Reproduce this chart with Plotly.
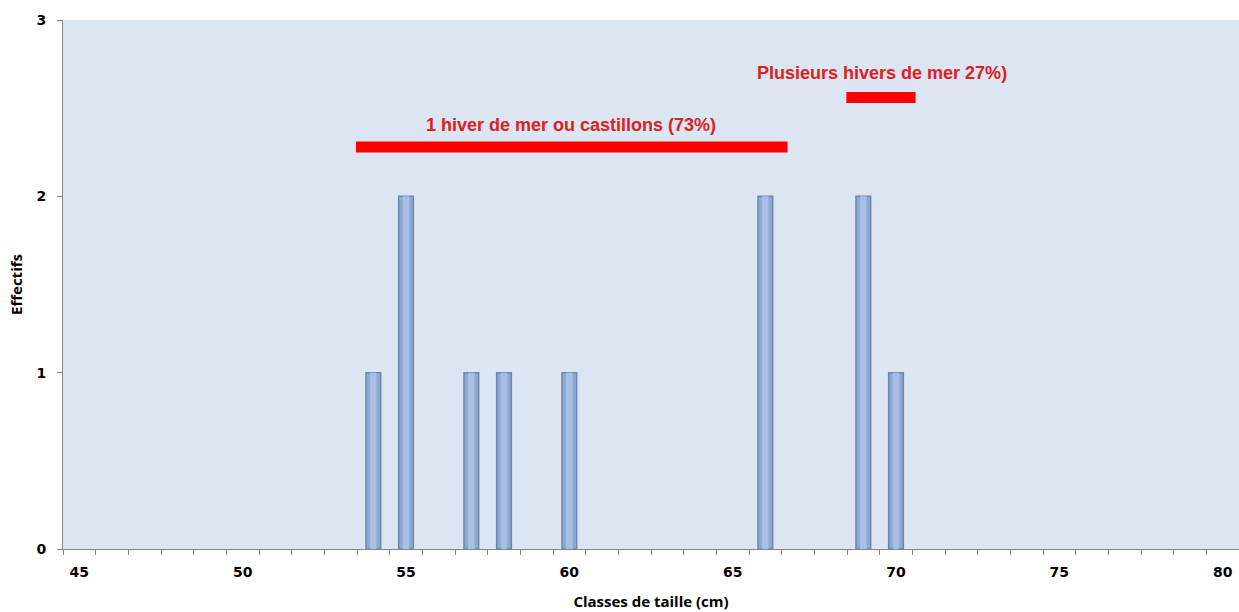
import plotly.graph_objects as go

tailles = [54, 55, 57, 58, 60, 66, 69, 70]
effectifs = [1, 2, 1, 1, 1, 2, 2, 1]

groupe1_x = [53.47, 66.68]
groupe1_y = [2.28, 2.28]
groupe1_label = "1 hiver de mer ou castillons (73%)"
groupe2_x = [68.48, 70.6]
groupe2_y = [2.56, 2.56]
groupe2_label = "Plusieurs hivers de mer 27%)"

tick_labels = [45, 50, 55, 60, 65, 70, 75, 80]
y_ticks = [0, 1, 2, 3]

fig = go.Figure()
fig.add_trace(go.Bar(
    x=tailles, y=effectifs, width=0.45,
    marker=dict(color="#8CA9D1", line=dict(color="#6C88B0", width=1.5)),
    showlegend=False,
))
fig.add_trace(go.Bar(
    x=tailles, y=effectifs, width=0.2,
    marker=dict(color="#A6C1E5", line=dict(width=0)),
    showlegend=False, hoverinfo="skip",
))
for gx, gy in [(groupe1_x, groupe1_y), (groupe2_x, groupe2_y)]:
    fig.add_trace(go.Scatter(x=gx, y=gy, mode="lines",
                             line=dict(color="#FF0000", width=11),
                             showlegend=False, hoverinfo="skip"))

red_font = dict(family="Liberation Sans, Arial", size=18, color="#DD2020")
fig.add_annotation(x=60.04, y=2.405, text="<b>" + groupe1_label + "</b>",
                   showarrow=False, font=red_font)
fig.add_annotation(x=69.56, y=2.70, text="<b>" + groupe2_label + "</b>",
                   showarrow=False, font=red_font)

tick_font = dict(family="DejaVu Sans", size=14, color="#000000")
title_font = dict(family="Open Sans", size=15, color="#000000")
fig.update_layout(
    width=1239, height=612,
    margin=dict(l=63, r=0, t=20, b=63),
    paper_bgcolor="#FFFFFF",
    plot_bgcolor="#DCE6F2",
    barmode="overlay",
    xaxis=dict(
        range=[44.5, 80.5],
        tickmode="array", tickvals=tick_labels,
        ticktext=["<b>%d</b>" % v for v in tick_labels],
        ticks="", tickfont=tick_font, ticklabelstandoff=10,
        showgrid=False, zeroline=False,
        showline=True, linecolor="#868686", linewidth=1,
        minor=dict(ticks="outside", tick0=44.5, dtick=1, ticklen=5,
                   tickcolor="#868686", showgrid=False),
        title=dict(text="<b>Classes de taille (cm)</b>", font=title_font,
                   standoff=17),
        fixedrange=True,
    ),
    yaxis=dict(
        range=[0, 3],
        tickmode="array", tickvals=y_ticks,
        ticktext=["<b>%d</b>" % v for v in y_ticks],
        ticks="outside", ticklen=5, tickcolor="#868686",
        tickfont=tick_font, ticklabelstandoff=8,
        showgrid=False, zeroline=False,
        showline=True, linecolor="#868686", linewidth=1,
        title=dict(text="<b>Effectifs</b>", font=title_font, standoff=10),
    ),
)

fig.write_html("out.html", config={"displayModeBar": False},
               post_script="document.body.style.margin='0';document.body.style.overflow='hidden';")
